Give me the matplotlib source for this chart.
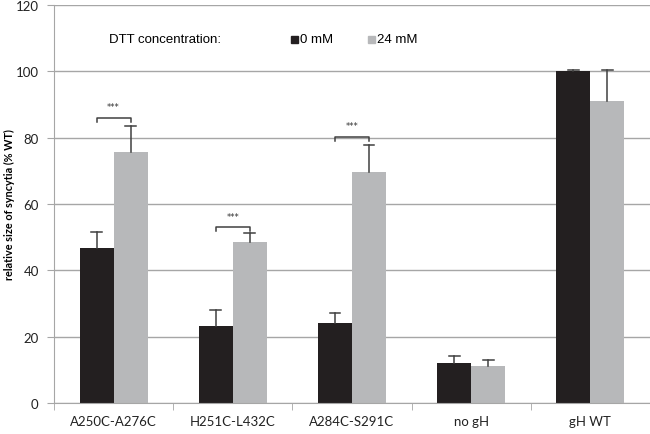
import numpy as np
import matplotlib
matplotlib.use("Agg")
from matplotlib import pyplot as plt
from matplotlib.patches import Rectangle

# data
categories = ['A250C-A276C', 'H251C-L432C', 'A284C-S291C', 'no gH', 'gH WT']
dtt_0 = [46.7, 23.3, 24.0, 12.1, 100.0]
dtt_0_err = [4.8, 4.7, 3.0, 2.2, 0.3]
dtt_24 = [75.6, 48.6, 69.5, 11.1, 91.2]
dtt_24_err = [7.8, 2.6, 8.3, 1.8, 9.1]
signif = [0, 1, 2]          # categories with *** brackets
bracket_y = [86.0, 53.0, 80.2]

c_black = '#231f20'
c_gray = '#b7b8ba'
c_grid = '#a6a6a6'
c_err = '#404040'

plt.rcParams['font.family'] = ['Lato', 'DejaVu Sans']

fig = plt.figure(figsize=(6.5, 4.35), dpi=100)
ax = fig.add_axes([54 / 650, 1 - 404 / 435, 596 / 650, 398 / 435])

x = np.arange(len(categories))
w = 0.285
ax.bar(x - w / 2, dtt_0, w, color=c_black, zorder=3)
ax.bar(x + w / 2, dtt_24, w, color=c_gray, zorder=3)

# upper-only error bars with a cap at the top
cap = 0.045
for xs, vals, errs in [(x - w / 2, dtt_0, dtt_0_err), (x + w / 2, dtt_24, dtt_24_err)]:
    for xi, v, e in zip(xs, vals, errs):
        ax.plot([xi, xi], [v, v + e], color=c_err, lw=1.1, zorder=4)
        ax.plot([xi - cap, xi + cap], [v + e, v + e], color=c_err, lw=1.1, zorder=4)

# significance brackets
for i, y in zip(signif, bracket_y):
    x0, x1 = i - w / 2, i + w / 2
    ax.plot([x0, x0, x1, x1], [y - 1.2, y, y, y - 1.2], color=c_err, lw=1.1, zorder=4)
    ax.text(i, y + 2.0, '***', ha='center', va='bottom', fontsize=6,
            color='#333333', family='DejaVu Sans')

ax.set_xlim(-0.5, len(categories) - 0.5)
ax.set_ylim(0, 120)
ax.set_yticks(np.arange(0, 121, 20))
ax.yaxis.grid(True, color=c_grid, lw=1.0, zorder=0)
ax.set_axisbelow(True)
for s in ['top', 'right']:
    ax.spines[s].set_visible(False)
ax.spines['left'].set_color(c_grid)
ax.spines['bottom'].set_color(c_grid)
ax.spines['bottom'].set_zorder(5)

ax.set_xticks(x)
ax.set_xticklabels(categories, fontsize=9.5, color='#222222')
ax.set_xticks(np.arange(-0.5, len(categories)), minor=True)
ax.tick_params(axis='x', which='major', length=0, pad=9)
ax.tick_params(axis='x', which='minor', length=5, color=c_grid, direction='out')
ax.tick_params(axis='y', length=5, color=c_grid, labelsize=9.5, labelcolor='#222222',
               pad=6)
ax.set_ylabel('relative size of syncytia (% WT)', fontsize=7.8, fontweight='bold')
ax.yaxis.set_label_coords(-39 / 596, 0.5)

# legend drawn in figure coordinates
leg_font = ['Liberation Sans Narrow', 'Liberation Sans']
fig.text(109 / 650, 1 - 40 / 435, 'DTT concentration:', fontsize=9.5,
         va='center', ha='left', family=leg_font)
for xs, col, lab in [(291, c_black, '0 mM'), (368, c_gray, '24 mM')]:
    fig.patches.append(Rectangle((xs / 650, 1 - 44 / 435), 7 / 650, 7 / 435,
                                 color=col, transform=fig.transFigure))
    fig.text((xs + 9) / 650, 1 - 40 / 435, lab, fontsize=9.5, va='center', ha='left',
             family=leg_font)

fig.savefig('out.png', dpi=100)
